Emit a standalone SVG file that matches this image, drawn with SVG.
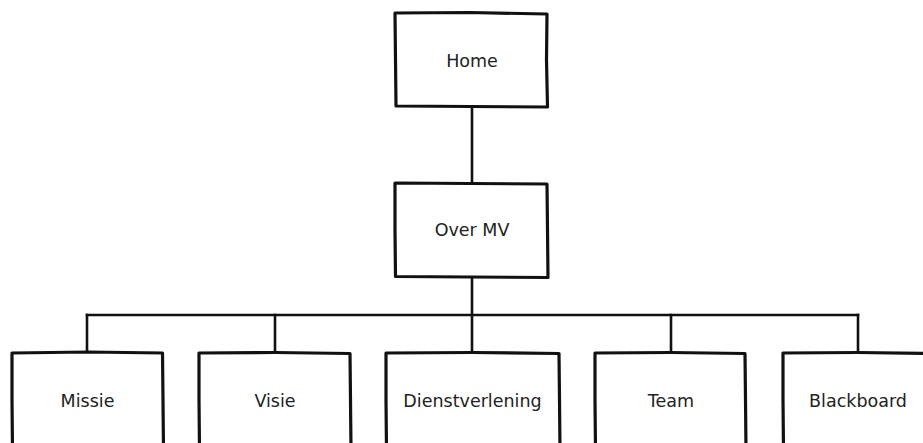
<svg xmlns="http://www.w3.org/2000/svg" width="923" height="443" viewBox="0 0 923 443">
<style>
.box{fill:#fff;stroke:#111;stroke-width:3.2;stroke-linejoin:round;stroke-linecap:round}
.lbl{font-family:"DejaVu Sans",sans-serif;font-size:17.5px;fill:#222;text-anchor:middle}
.conn{fill:none;stroke:#111;stroke-width:2.6;stroke-linecap:square}
</style>
<rect width="923" height="443" fill="#fff"/>
<g id="connectors">
<path class="conn" d="M472,107 V183"/>
<path class="conn" d="M472,277 V315"/>
<path class="conn" d="M87,315 H858"/>
<path class="conn" d="M87,315 V353"/>
<path class="conn" d="M275,315 V353"/>
<path class="conn" d="M472,315 V353"/>
<path class="conn" d="M671,315 V353"/>
<path class="conn" d="M858,315 V353"/>
</g>
<g id="home">
<path class="box" d="M395,13 L470,12.5 L547,14 L546.5,60 L547.5,107 L470,106.5 L396,106 L395.5,60 Z"/>
<text class="lbl" x="472" y="67">Home</text>
</g>
<g id="over-mv">
<path class="box" d="M395,183 L470,183.5 L547,184 L547.5,230 L548,277.5 L470,277 L395.5,276.5 L395,230 Z"/>
<text class="lbl" x="472" y="236">Over MV</text>
</g>
<g id="missie">
<path class="box" d="M12,353 L88,352 L162.5,353 L163,400 L163.5,450 L12.5,450 L12,400 Z"/>
<text class="lbl" x="87.5" y="407">Missie</text>
</g>
<g id="visie">
<path class="box" d="M199,353 L275,352.5 L350,353.5 L350.5,400 L351,450 L199.5,450 L199,400 Z"/>
<text class="lbl" x="275" y="407">Visie</text>
</g>
<g id="dienstverlening">
<path class="box" d="M386,353 L472,352.5 L559,353.5 L559.5,400 L560,450 L386.5,450 L386,400 Z"/>
<text class="lbl" x="472.5" y="407">Dienstverlening</text>
</g>
<g id="team">
<path class="box" d="M595,353 L671,352.5 L745,353.5 L745.5,400 L746,450 L595.5,450 L595,400 Z"/>
<text class="lbl" x="671" y="407">Team</text>
</g>
<g id="blackboard">
<path class="box" d="M783,353 L858,352.5 L935,353.5 L935,450 L783.5,450 L783,400 Z"/>
<text class="lbl" x="858" y="407">Blackboard</text>
</g>
</svg>
